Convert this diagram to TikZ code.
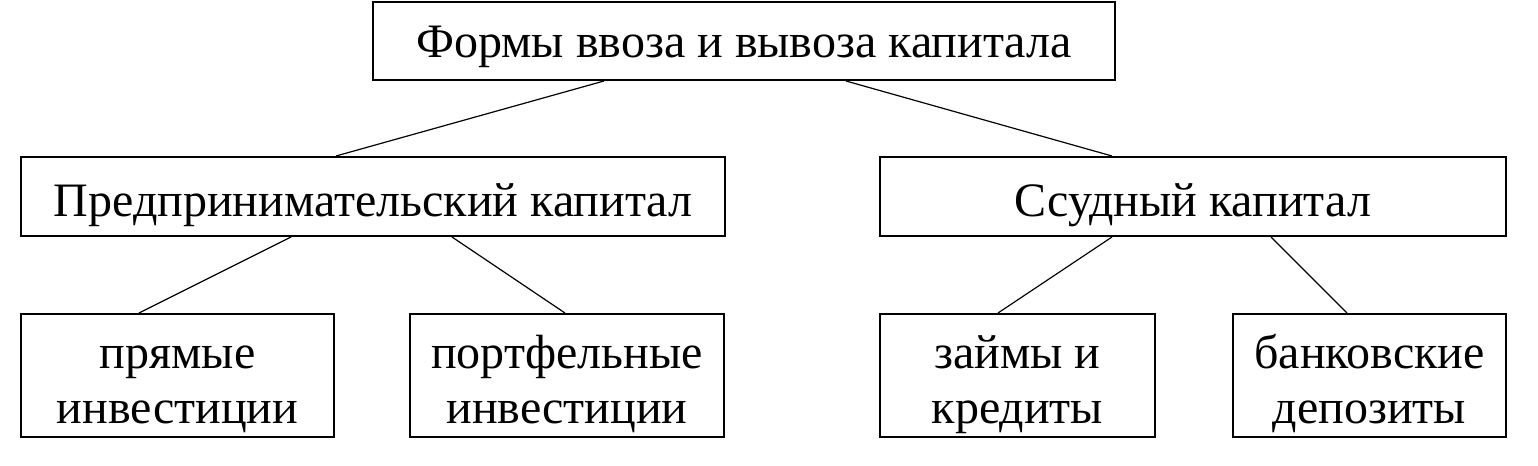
\documentclass[tikz,border=0pt]{standalone}
\usepackage{fontspec}
\setmainfont{Liberation Serif}
\begin{document}
\begin{tikzpicture}[x=0.5pt,y=-0.5pt,
    headbox/.style={minimum height=39pt,text height=21pt,text depth=5pt},
    kindbox/.style={minimum height=39.5pt,text height=24.5pt,text depth=5pt},
    formbox/.style={minimum height=61.5pt,text height=53.5pt,text depth=6pt}]

      \useasboundingbox (0,0) rectangle (1538,466);

      \begin{scope}[every node/.style={draw,line width=1pt,inner sep=0pt,align=center,
          font=\fontsize{24}{27.5}\selectfont}]
        \node[headbox,minimum width=371pt] (forms)  at (744,41)    {Формы ввоза и вывоза капитала};
        \node[kindbox,minimum width=352pt] (entr) at (373,196.5)   {Предпринимательский капитал};
        \node[kindbox,minimum width=313pt] (loan) at (1193,196.5)  {Ссудный капитал};
        \node[formbox,minimum width=156.5pt] (direct) at (177.5,375.5) {прямые\\инвестиции};
        \node[formbox,minimum width=157pt]   (portf)  at (567,375.5)   {портфельные\\инвестиции};
        \node[formbox,minimum width=137.5pt] (credit) at (1017.5,375.5) {займы и\\кредиты};
        \node[formbox,minimum width=136.5pt] (bank)   at (1369.5,375.5) {банковские\\депозиты};
      \end{scope}

      \begin{scope}[every path/.style={line width=0.6pt}]
        \draw ([xshift=116pt]forms.south west) -- ([xshift=158pt]entr.north west);
        \draw ([xshift=237pt]forms.south west) -- ([xshift=116.5pt]loan.north west);
        \draw ([xshift=135.5pt]entr.south west) -- ([xshift=59.5pt]direct.north west);
        \draw ([xshift=216pt]entr.south west)   -- ([xshift=78pt]portf.north west);
        \draw ([xshift=116.5pt]loan.south west) -- ([xshift=59.5pt]credit.north west);
        \draw ([xshift=196pt]loan.south west)   -- ([xshift=57.5pt]bank.north west);
      \end{scope}

    \end{tikzpicture}
\end{document}
